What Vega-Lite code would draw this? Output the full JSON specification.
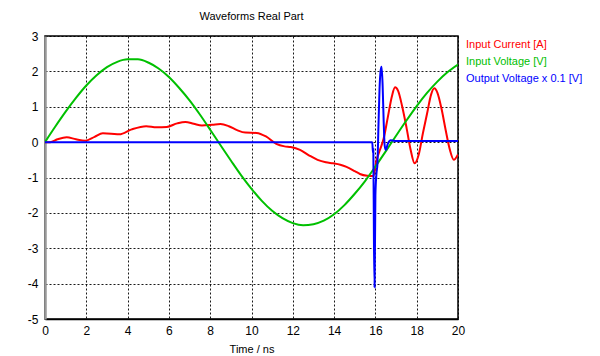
{
  "$schema": "https://vega.github.io/schema/vega-lite/v6.json",
  "width": 413,
  "height": 283,
  "autosize": "none",
  "padding": {"left": 45, "top": 36, "right": 142, "bottom": 37},
  "background": "white",
  "title": {"text": "Waveforms Real Part", "font": "Liberation Sans", "fontSize": 11, "fontWeight": "normal", "color": "#000", "offset": 8, "anchor": "middle"},
  "config": {
    "view": {"stroke": "#000", "strokeWidth": 1.5},
    "axis": {"labelFont": "Liberation Sans", "labelFontSize": 12, "labelColor": "#000", "titleFont": "Liberation Sans", "titleFontSize": 11, "titleFontWeight": "normal", "titleColor": "#000", "ticks": false, "grid": true, "gridColor": "#000", "gridDash": [2, 2], "gridWidth": 1, "gridOpacity": 0.9}
  },
  "data": {"values": [
    {"s": "Input Current [A]", "t": 0, "v": 0}, {"s": "Input Current [A]", "t": 0.25, "v": 0}, {"s": "Input Current [A]", "t": 0.6, "v": 0.08}, {"s": "Input Current [A]", "t": 1.05, "v": 0.14}, {"s": "Input Current [A]", "t": 1.5, "v": 0.08}, {"s": "Input Current [A]", "t": 1.95, "v": 0.04}, {"s": "Input Current [A]", "t": 2.4, "v": 0.15}, {"s": "Input Current [A]", "t": 2.8, "v": 0.25}, {"s": "Input Current [A]", "t": 3.2, "v": 0.24}, {"s": "Input Current [A]", "t": 3.6, "v": 0.22}, {"s": "Input Current [A]", "t": 4.2, "v": 0.36}, {"s": "Input Current [A]", "t": 4.9, "v": 0.45}, {"s": "Input Current [A]", "t": 5.4, "v": 0.42}, {"s": "Input Current [A]", "t": 5.9, "v": 0.43}, {"s": "Input Current [A]", "t": 6.4, "v": 0.53}, {"s": "Input Current [A]", "t": 6.8, "v": 0.57}, {"s": "Input Current [A]", "t": 7.2, "v": 0.52}, {"s": "Input Current [A]", "t": 7.6, "v": 0.47}, {"s": "Input Current [A]", "t": 8.1, "v": 0.49}, {"s": "Input Current [A]", "t": 8.5, "v": 0.51}, {"s": "Input Current [A]", "t": 8.9, "v": 0.45}, {"s": "Input Current [A]", "t": 9.3, "v": 0.34}, {"s": "Input Current [A]", "t": 9.7, "v": 0.27}, {"s": "Input Current [A]", "t": 10.25, "v": 0.26}, {"s": "Input Current [A]", "t": 10.7, "v": 0.16}, {"s": "Input Current [A]", "t": 11.2, "v": -0.05}, {"s": "Input Current [A]", "t": 11.6, "v": -0.12}, {"s": "Input Current [A]", "t": 11.9, "v": -0.14}, {"s": "Input Current [A]", "t": 12.35, "v": -0.22}, {"s": "Input Current [A]", "t": 12.8, "v": -0.38}, {"s": "Input Current [A]", "t": 13.2, "v": -0.5}, {"s": "Input Current [A]", "t": 13.6, "v": -0.57}, {"s": "Input Current [A]", "t": 13.95, "v": -0.6}, {"s": "Input Current [A]", "t": 14.3, "v": -0.64}, {"s": "Input Current [A]", "t": 14.6, "v": -0.7}, {"s": "Input Current [A]", "t": 15.0, "v": -0.82}, {"s": "Input Current [A]", "t": 15.25, "v": -0.9}, {"s": "Input Current [A]", "t": 15.6, "v": -0.95}, {"s": "Input Current [A]", "t": 15.9, "v": -0.96}, {"s": "Input Current [A]", "t": 16.06, "v": -0.5}, {"s": "Input Current [A]", "t": 16.2, "v": -0.25}, {"s": "Input Current [A]", "t": 16.4, "v": 0.1}, {"s": "Input Current [A]", "t": 16.6, "v": 0.7}, {"s": "Input Current [A]", "t": 16.8, "v": 1.3}, {"s": "Input Current [A]", "t": 16.95, "v": 1.55}, {"s": "Input Current [A]", "t": 17.1, "v": 1.45}, {"s": "Input Current [A]", "t": 17.3, "v": 1.0}, {"s": "Input Current [A]", "t": 17.5, "v": 0.43}, {"s": "Input Current [A]", "t": 17.7, "v": -0.2}, {"s": "Input Current [A]", "t": 17.9, "v": -0.6}, {"s": "Input Current [A]", "t": 18.1, "v": -0.35}, {"s": "Input Current [A]", "t": 18.3, "v": 0.25}, {"s": "Input Current [A]", "t": 18.5, "v": 0.8}, {"s": "Input Current [A]", "t": 18.7, "v": 1.35}, {"s": "Input Current [A]", "t": 18.85, "v": 1.52}, {"s": "Input Current [A]", "t": 19.0, "v": 1.4}, {"s": "Input Current [A]", "t": 19.2, "v": 0.95}, {"s": "Input Current [A]", "t": 19.4, "v": 0.35}, {"s": "Input Current [A]", "t": 19.6, "v": -0.2}, {"s": "Input Current [A]", "t": 19.8, "v": -0.5}, {"s": "Input Current [A]", "t": 20, "v": -0.35},
    {"s": "Input Voltage [V]", "t": 0, "v": 0}, {"s": "Input Voltage [V]", "t": 0.5, "v": 0.44}, {"s": "Input Voltage [V]", "t": 1, "v": 0.86}, {"s": "Input Voltage [V]", "t": 1.5, "v": 1.25}, {"s": "Input Voltage [V]", "t": 2, "v": 1.6}, {"s": "Input Voltage [V]", "t": 2.5, "v": 1.89}, {"s": "Input Voltage [V]", "t": 3, "v": 2.12}, {"s": "Input Voltage [V]", "t": 3.5, "v": 2.27}, {"s": "Input Voltage [V]", "t": 4, "v": 2.34}, {"s": "Input Voltage [V]", "t": 4.5, "v": 2.34}, {"s": "Input Voltage [V]", "t": 5, "v": 2.25}, {"s": "Input Voltage [V]", "t": 5.5, "v": 2.08}, {"s": "Input Voltage [V]", "t": 6, "v": 1.84}, {"s": "Input Voltage [V]", "t": 6.5, "v": 1.53}, {"s": "Input Voltage [V]", "t": 7, "v": 1.18}, {"s": "Input Voltage [V]", "t": 7.5, "v": 0.78}, {"s": "Input Voltage [V]", "t": 8, "v": 0.35}, {"s": "Input Voltage [V]", "t": 8.5, "v": -0.09}, {"s": "Input Voltage [V]", "t": 9, "v": -0.52}, {"s": "Input Voltage [V]", "t": 9.5, "v": -0.94}, {"s": "Input Voltage [V]", "t": 10, "v": -1.32}, {"s": "Input Voltage [V]", "t": 10.5, "v": -1.66}, {"s": "Input Voltage [V]", "t": 11, "v": -1.94}, {"s": "Input Voltage [V]", "t": 11.5, "v": -2.15}, {"s": "Input Voltage [V]", "t": 12, "v": -2.29}, {"s": "Input Voltage [V]", "t": 12.5, "v": -2.35}, {"s": "Input Voltage [V]", "t": 13, "v": -2.32}, {"s": "Input Voltage [V]", "t": 13.5, "v": -2.22}, {"s": "Input Voltage [V]", "t": 14, "v": -2.04}, {"s": "Input Voltage [V]", "t": 14.5, "v": -1.78}, {"s": "Input Voltage [V]", "t": 15, "v": -1.46}, {"s": "Input Voltage [V]", "t": 15.5, "v": -1.1}, {"s": "Input Voltage [V]", "t": 16, "v": -0.69}, {"s": "Input Voltage [V]", "t": 16.5, "v": -0.26}, {"s": "Input Voltage [V]", "t": 17, "v": 0.18}, {"s": "Input Voltage [V]", "t": 17.5, "v": 0.61}, {"s": "Input Voltage [V]", "t": 18, "v": 1.02}, {"s": "Input Voltage [V]", "t": 18.5, "v": 1.39}, {"s": "Input Voltage [V]", "t": 19, "v": 1.71}, {"s": "Input Voltage [V]", "t": 19.5, "v": 1.98}, {"s": "Input Voltage [V]", "t": 20, "v": 2.19},
    {"s": "Output Voltage x 0.1 [V]", "t": 0, "v": 0}, {"s": "Output Voltage x 0.1 [V]", "t": 15.85, "v": 0}, {"s": "Output Voltage x 0.1 [V]", "t": 15.88, "v": -0.3}, {"s": "Output Voltage x 0.1 [V]", "t": 15.9, "v": -0.2}, {"s": "Output Voltage x 0.1 [V]", "t": 15.93, "v": -2.85}, {"s": "Output Voltage x 0.1 [V]", "t": 15.96, "v": -4.1}, {"s": "Output Voltage x 0.1 [V]", "t": 16.0, "v": -1.5}, {"s": "Output Voltage x 0.1 [V]", "t": 16.05, "v": -0.9}, {"s": "Output Voltage x 0.1 [V]", "t": 16.1, "v": -0.6}, {"s": "Output Voltage x 0.1 [V]", "t": 16.15, "v": 0.5}, {"s": "Output Voltage x 0.1 [V]", "t": 16.2, "v": 1.5}, {"s": "Output Voltage x 0.1 [V]", "t": 16.25, "v": 2.0}, {"s": "Output Voltage x 0.1 [V]", "t": 16.3, "v": 2.13}, {"s": "Output Voltage x 0.1 [V]", "t": 16.35, "v": 1.6}, {"s": "Output Voltage x 0.1 [V]", "t": 16.4, "v": 0.6}, {"s": "Output Voltage x 0.1 [V]", "t": 16.45, "v": -0.1}, {"s": "Output Voltage x 0.1 [V]", "t": 16.5, "v": -0.22}, {"s": "Output Voltage x 0.1 [V]", "t": 16.6, "v": -0.05}, {"s": "Output Voltage x 0.1 [V]", "t": 16.75, "v": 0.05}, {"s": "Output Voltage x 0.1 [V]", "t": 17, "v": 0.03}, {"s": "Output Voltage x 0.1 [V]", "t": 20, "v": 0.03}
  ]},
  "mark": {"type": "line", "strokeWidth": 2, "clip": true, "interpolate": "monotone"},
  "encoding": {
    "x": {"field": "t", "type": "quantitative", "scale": {"domain": [0, 20], "nice": false}, "axis": {"title": "Time / ns", "values": [0, 2, 4, 6, 8, 10, 12, 14, 16, 18, 20], "labelPadding": 6, "titleY": 33, "titleBaseline": "alphabetic", "domainColor": "#000", "domainWidth": 1.5, "labelFlush": false}},
    "y": {"field": "v", "type": "quantitative", "scale": {"domain": [-5, 3], "nice": false}, "axis": {"title": null, "values": [-5, -4, -3, -2, -1, 0, 1, 2, 3], "labelExpr": "replace(datum.label, '\u2212', '-')", "labelFlush": false, "labelPadding": 7, "domainColor": "#999", "domainWidth": 2.5}},
    "color": {"field": "s", "type": "nominal", "scale": {"domain": ["Input Current [A]", "Input Voltage [V]", "Output Voltage x 0.1 [V]"], "range": ["#ff0000", "#00c000", "#0000ff"]},
      "legend": {"title": null, "orient": "none", "legendX": 410, "legendY": 3, "symbolOpacity": 0, "symbolSize": 0, "symbolStrokeWidth": 0, "labelFont": "Liberation Sans", "labelFontSize": 11, "rowPadding": 5, "labelOffset": 0, "symbolType": "stroke",
        "encode": {"labels": {"update": {"fill": {"scale": "color", "field": "value"}}}, "symbols": {"update": {"opacity": {"value": 0}}}}}}
  }
}
